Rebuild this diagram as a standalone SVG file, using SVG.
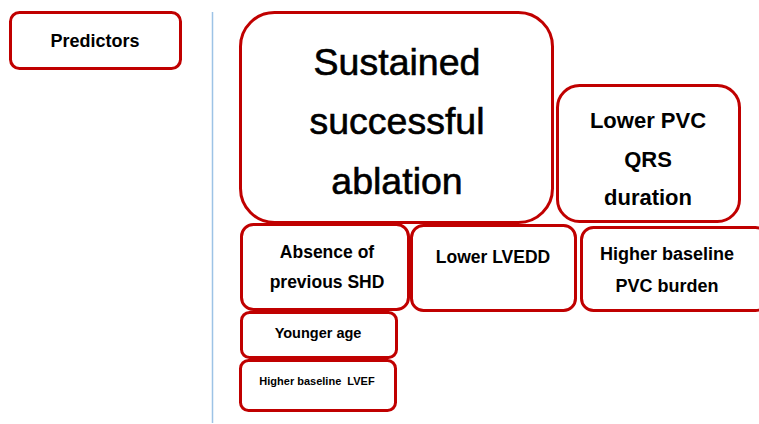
<svg xmlns="http://www.w3.org/2000/svg" width="759" height="424" viewBox="0 0 759 424">
<style>
.box{fill:#fff;stroke:#c00000;stroke-width:3}
text{font-family:"Liberation Sans",Arial,sans-serif;font-weight:bold;fill:#000;text-anchor:middle}
.big{font-weight:normal;font-size:37.5px;stroke:#000;stroke-width:0.6}
</style>
<rect width="759" height="424" fill="#fff"/>
<g id="divider"><line x1="212.5" y1="12" x2="212.5" y2="423" stroke="#9dc3e6" stroke-width="1.5"/></g>
<g id="predictors"><rect class="box" x="10.5" y="12.5" width="170" height="56" rx="9"/><text x="95" y="47" font-size="18">Predictors</text></g>
<g id="connectors"></g>
<g id="main"><rect class="box" x="240.5" y="12.5" width="312" height="210" rx="34"/>
<text class="big" x="397" y="75">Sustained</text>
<text class="big" x="397" y="134">successful</text>
<text class="big" x="397" y="194">ablation</text></g>
<g id="qrs"><rect class="box" x="557.5" y="85.5" width="182" height="136" rx="22"/>
<text x="648" y="128" font-size="22">Lower PVC</text>
<text x="648" y="167" font-size="22">QRS</text>
<text x="648" y="205" font-size="22">duration</text></g>
<g id="shd"><rect class="box" x="241.5" y="224.5" width="167" height="85" rx="12"/>
<text x="327" y="258" font-size="17.5">Absence of</text>
<text x="327" y="288" font-size="17.5">previous SHD</text></g>
<g id="lvedd"><rect class="box" x="411.5" y="225.5" width="164" height="85" rx="12"/>
<text x="493" y="263" font-size="17.5">Lower LVEDD</text></g>
<g id="burden"><rect class="box" x="581.5" y="227.5" width="186" height="83" rx="12"/>
<text x="667" y="260" font-size="18">Higher baseline</text>
<text x="667" y="292" font-size="18">PVC burden</text></g>
<g id="age"><rect class="box" x="241.5" y="312.5" width="155" height="45" rx="8"/>
<text x="318" y="338" font-size="14.5">Younger age</text></g>
<g id="lvef"><rect class="box" x="240.5" y="360.5" width="155" height="50" rx="8"/>
<text x="317" y="385" font-size="11" style="white-space:pre">Higher baseline  LVEF</text></g>
</svg>
